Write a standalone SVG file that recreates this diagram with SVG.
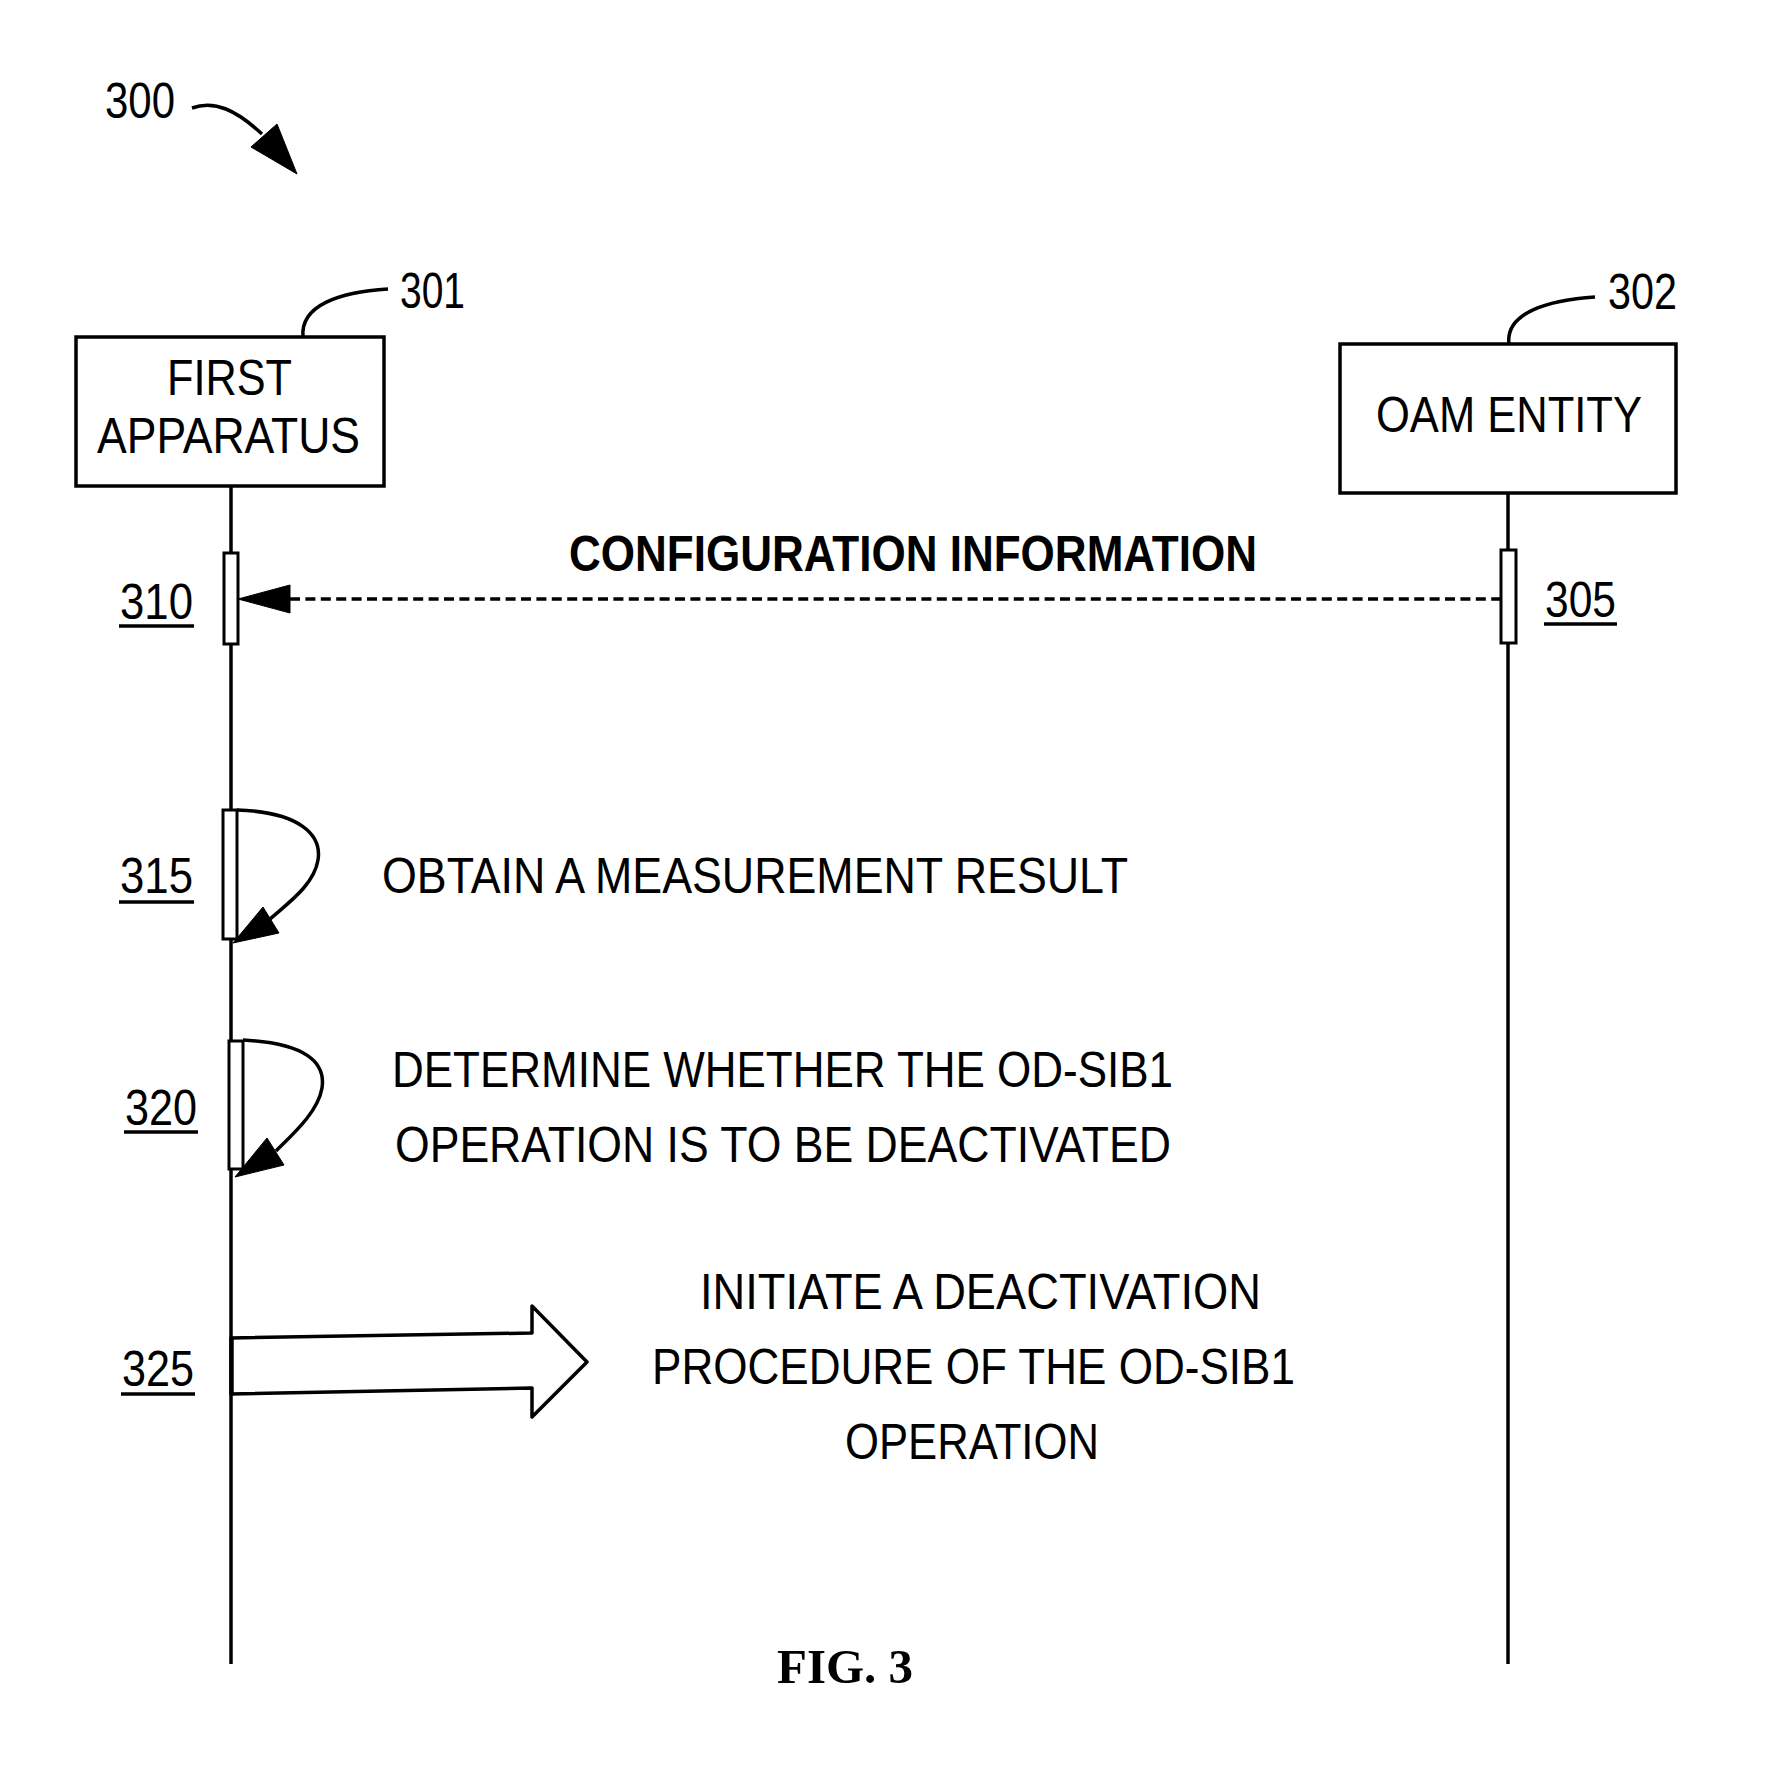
<svg xmlns="http://www.w3.org/2000/svg" width="1767" height="1781" viewBox="0 0 1767 1781">
<style>
.t{font-family:"Liberation Sans",Arial,sans-serif;font-size:50px;fill:#000}
.b{font-weight:bold}
.ln{stroke:#000;fill:none;stroke-width:3.5}
.box{stroke:#000;fill:#fff;stroke-width:3.5}
.act{stroke:#000;fill:#fff;stroke-width:3}
.ul{stroke:#000;stroke-width:3.5}
.head{fill:#000;stroke:#000;stroke-width:1}
</style>
<rect width="1767" height="1781" fill="#fff"/>
<g id="ref300">
<text class="t" x="105" y="118" textLength="70" lengthAdjust="spacingAndGlyphs">300</text>
<path class="ln" stroke-width="4.5" d="M192,108 C215,100 236,110 262,134"/>
<polygon class="head" points="297,174 251,147 277,124"/>
</g>
<g id="connectors">
<line class="ln" x1="231" y1="486" x2="231" y2="1664"/>
<line class="ln" x1="1508" y1="493" x2="1508" y2="1664"/>
<line class="ln" stroke-width="3.5" stroke-dasharray="10 5.4" x1="290" y1="599" x2="1500" y2="599"/>
<polygon class="head" points="238,599 290,585 290,613"/>
<path class="ln" stroke-width="3" d="M237,810 C300,812 322,835 318,860 C314,885 288,903 270,919"/>
<polygon class="head" points="233,943 263,907 279,933"/>
<path class="ln" stroke-width="3" d="M243,1040 C305,1043 326,1062 322,1088 C318,1112 293,1134 276,1151"/>
<polygon class="head" points="235,1177 267,1138 284,1165"/>
<polygon class="ln" stroke-width="4" stroke-linejoin="round" points="231,1338 532,1333 532,1306 587,1362 532,1417 532,1388 231,1394"/>
<line class="ln" stroke-width="5" x1="232" y1="1338" x2="232" y2="1394"/>
</g>
<g id="node301">
<path class="ln" stroke-width="4" d="M388,289 C340,292 300,305 303,337"/>
<text class="t" x="400" y="308" textLength="65" lengthAdjust="spacingAndGlyphs">301</text>
<rect class="box" x="76" y="337" width="308" height="149"/>
<text class="t" x="167" y="395" textLength="125" lengthAdjust="spacingAndGlyphs">FIRST</text>
<text class="t" x="97" y="453" textLength="263" lengthAdjust="spacingAndGlyphs">APPARATUS</text>
</g>
<g id="node302">
<path class="ln" stroke-width="4" d="M1595,297 C1550,300 1505,312 1509,344"/>
<text class="t" x="1608" y="309" textLength="69" lengthAdjust="spacingAndGlyphs">302</text>
<rect class="box" x="1340" y="344" width="336" height="149"/>
<text class="t" x="1376" y="432" textLength="266" lengthAdjust="spacingAndGlyphs">OAM ENTITY</text>
</g>
<g id="step305">
<rect class="act" x="1501" y="550" width="15" height="93"/>
<text class="t" x="1545" y="617" textLength="71" lengthAdjust="spacingAndGlyphs">305</text>
<line class="ul" x1="1544" y1="624" x2="1617" y2="624"/>
</g>
<g id="step310">
<rect class="act" x="224" y="553" width="14" height="91"/>
<text class="t" x="120" y="619" textLength="73" lengthAdjust="spacingAndGlyphs">310</text>
<line class="ul" x1="119" y1="626" x2="194" y2="626"/>
<text class="t b" x="569" y="571" textLength="688" lengthAdjust="spacingAndGlyphs">CONFIGURATION INFORMATION</text>
</g>
<g id="step315">
<rect class="act" x="223" y="810" width="14" height="129"/>
<text class="t" x="120" y="893" textLength="73" lengthAdjust="spacingAndGlyphs">315</text>
<line class="ul" x1="119" y1="902" x2="194" y2="902"/>
<text class="t" x="382" y="893" textLength="746" lengthAdjust="spacingAndGlyphs">OBTAIN A MEASUREMENT RESULT</text>
</g>
<g id="step320">
<rect class="act" x="229" y="1041" width="14" height="128"/>
<text class="t" x="125" y="1125" textLength="72" lengthAdjust="spacingAndGlyphs">320</text>
<line class="ul" x1="124" y1="1132" x2="198" y2="1132"/>
<text class="t" x="392" y="1087" textLength="781" lengthAdjust="spacingAndGlyphs">DETERMINE WHETHER THE OD-SIB1</text>
<text class="t" x="395" y="1162" textLength="776" lengthAdjust="spacingAndGlyphs">OPERATION IS TO BE DEACTIVATED</text>
</g>
<g id="step325">
<text class="t" x="122" y="1386" textLength="72" lengthAdjust="spacingAndGlyphs">325</text>
<line class="ul" x1="121" y1="1394" x2="195" y2="1394"/>
<text class="t" x="700" y="1309" textLength="561" lengthAdjust="spacingAndGlyphs">INITIATE A DEACTIVATION</text>
<text class="t" x="652" y="1384" textLength="643" lengthAdjust="spacingAndGlyphs">PROCEDURE OF THE OD-SIB1</text>
<text class="t" x="845" y="1459" textLength="254" lengthAdjust="spacingAndGlyphs">OPERATION</text>
</g>
<text x="777" y="1683" font-family="'Liberation Serif','Times New Roman',serif" font-weight="bold" font-size="49" textLength="136" lengthAdjust="spacingAndGlyphs">FIG. 3</text>
</svg>
